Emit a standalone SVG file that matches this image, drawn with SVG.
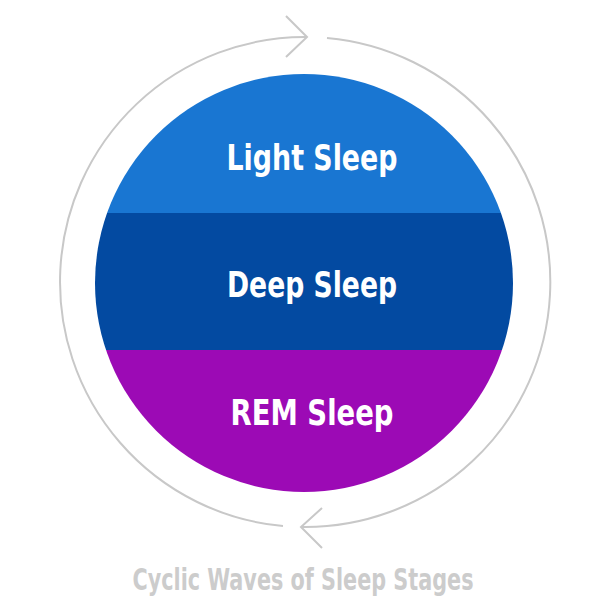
<svg xmlns="http://www.w3.org/2000/svg" width="608" height="608" viewBox="0 0 608 608">
<style>
.lbl{font-family:"DejaVu Sans Condensed","Liberation Sans",sans-serif;font-weight:bold;font-size:36px;fill:#fff;text-anchor:middle}
.ring{fill:none;stroke:#c8c8c8;stroke-width:2}
</style>
<defs><clipPath id="c"><circle cx="304" cy="283" r="209"/></clipPath></defs>
<rect width="608" height="608" fill="#fff"/>
<g id="connectors">
<path class="ring" d="M307,37 A245,245 0 0 0 283,526"/>
<path class="ring" d="M286,16 L307,37 L286,57"/>
<path class="ring" d="M327,38 A245,245 0 0 1 301,527"/>
<path class="ring" d="M322,508 L301,527 L322,548"/>
</g>
<g clip-path="url(#c)">
<g id="light"><rect x="90" y="70" width="430" height="143" fill="#1976d2"/><text class="lbl" x="312" y="170" textLength="171" lengthAdjust="spacingAndGlyphs">Light Sleep</text></g>
<g id="deep"><rect x="90" y="213" width="430" height="137" fill="#034aa1"/><text class="lbl" x="312" y="297" textLength="170" lengthAdjust="spacingAndGlyphs">Deep Sleep</text></g>
<g id="rem"><rect x="90" y="350" width="430" height="150" fill="#9c0ab5"/><text class="lbl" x="312" y="425" textLength="163" lengthAdjust="spacingAndGlyphs">REM Sleep</text></g>
</g>
<text id="title" x="303" y="590" font-family="DejaVu Sans Condensed,Liberation Sans,sans-serif" font-weight="bold" font-size="31" fill="#cccccc" text-anchor="middle" textLength="341" lengthAdjust="spacingAndGlyphs">Cyclic Waves of Sleep Stages</text>
</svg>
